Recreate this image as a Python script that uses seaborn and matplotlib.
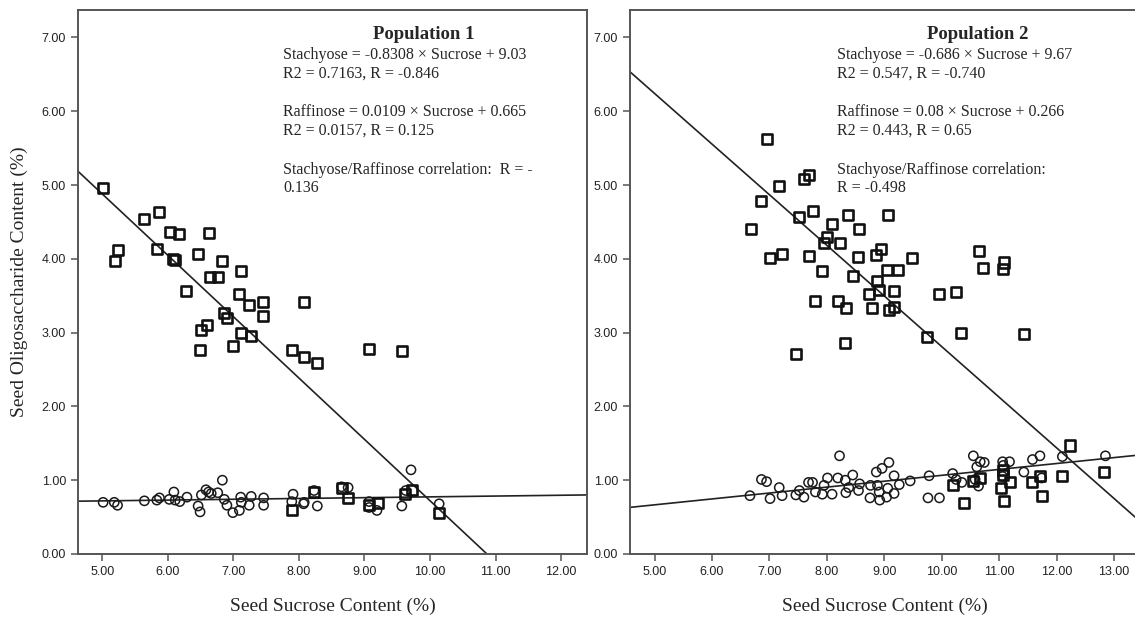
import numpy as np
import pandas as pd
import seaborn as sns
import matplotlib.pyplot as plt

# ---- population 1 : stachyose (squares)
p1_stach_sucrose = [5.01, 5.23, 5.19, 5.64, 5.86, 5.83, 6.03, 6.17, 6.08, 6.10, 6.27, 6.46,
                    6.63, 6.82, 6.64, 6.77, 7.11, 7.09, 7.24, 7.45, 7.45, 6.86, 6.90, 6.59,
                    6.51, 6.49, 6.99, 7.12, 7.27, 8.08, 7.90, 8.07, 8.27, 9.07, 9.57,
                    7.89, 8.23, 8.65, 8.75, 9.07, 9.20, 9.62, 9.72, 10.14]
p1_stach = [4.96, 4.12, 3.97, 4.54, 4.63, 4.13, 4.36, 4.34, 4.00, 3.99, 3.56, 4.06,
            4.35, 3.97, 3.75, 3.76, 3.83, 3.52, 3.38, 3.41, 3.22, 3.27, 3.20, 3.10,
            3.04, 2.76, 2.82, 3.00, 2.96, 3.41, 2.76, 2.67, 2.59, 2.78, 2.75,
            0.59, 0.84, 0.90, 0.76, 0.67, 0.69, 0.81, 0.87, 0.55]

# ---- population 1 : raffinose (circles)
p1_raff_sucrose = [5.01, 5.18, 5.23, 5.64, 5.83, 5.87, 6.02, 6.09, 6.11, 6.18, 6.29, 6.46,
                   6.49, 6.51, 6.58, 6.62, 6.66, 6.76, 6.83, 6.86, 6.90, 6.99, 7.09, 7.11,
                   7.12, 7.24, 7.27, 7.46, 7.46, 7.91, 7.89, 8.07, 8.08, 8.28, 8.23, 8.65,
                   8.75, 9.07, 9.07, 9.19, 9.57, 9.63, 9.71, 10.14]
p1_raff = [0.70, 0.70, 0.66, 0.72, 0.73, 0.76, 0.74, 0.84, 0.73, 0.71, 0.77, 0.65,
           0.57, 0.80, 0.87, 0.84, 0.82, 0.83, 1.00, 0.74, 0.66, 0.56, 0.59, 0.77,
           0.70, 0.66, 0.78, 0.76, 0.66, 0.81, 0.71, 0.68, 0.70, 0.65, 0.86, 0.91,
           0.90, 0.71, 0.63, 0.59, 0.65, 0.86, 1.14, 0.68]

# ---- population 2 : stachyose (squares)
p2_stach_sucrose = [6.95, 7.68, 7.60, 7.17, 6.85, 7.51, 7.75, 8.37, 9.07, 6.67, 8.09, 8.56,
                    8.01, 7.95, 8.22, 7.01, 7.22, 7.69, 8.55, 8.86, 8.94, 9.49, 7.92, 8.46,
                    9.04, 9.24, 8.88, 8.91, 9.16, 8.74, 7.80, 8.19, 8.34, 8.78, 9.08, 9.17,
                    9.75, 8.32, 7.46, 10.64, 11.09, 11.07, 10.72, 9.95, 10.24, 10.33, 11.43,
                    12.24, 12.83, 12.10, 11.71, 11.75, 11.57, 11.19, 11.03, 11.09, 11.07,
                    11.06, 10.67, 10.55, 10.19, 10.39]
p2_stach = [5.63, 5.14, 5.08, 4.99, 4.79, 4.57, 4.65, 4.59, 4.60, 4.41, 4.47, 4.41,
            4.30, 4.21, 4.22, 4.01, 4.07, 4.04, 4.03, 4.05, 4.13, 4.01, 3.83, 3.77,
            3.85, 3.85, 3.70, 3.58, 3.57, 3.52, 3.43, 3.43, 3.34, 3.34, 3.30, 3.35,
            2.94, 2.86, 2.71, 4.11, 3.95, 3.86, 3.87, 3.52, 3.55, 2.99, 2.98,
            1.47, 1.11, 1.06, 1.06, 0.79, 0.97, 0.97, 0.90, 0.72, 1.07,
            1.14, 1.03, 0.99, 0.93, 0.69]

# ---- population 2 : raffinose (circles)
p2_raff_sucrose = [6.66, 6.86, 6.95, 7.01, 7.17, 7.22, 7.46, 7.52, 7.60, 7.68, 7.75, 7.80,
                   7.92, 7.95, 8.01, 8.09, 8.19, 8.22, 8.32, 8.33, 8.38, 8.45, 8.55, 8.57,
                   8.76, 8.75, 8.86, 8.88, 8.91, 8.92, 8.96, 9.04, 9.06, 9.08, 9.17, 9.17,
                   9.26, 9.45, 9.78, 9.76, 9.96, 10.19, 10.25, 10.35, 10.55, 10.61, 10.67,
                   10.74, 10.64, 10.58, 11.06, 11.07, 11.18, 11.06, 11.43, 11.58, 11.71,
                   11.74, 12.10, 12.85]
p2_raff = [0.79, 1.01, 0.98, 0.75, 0.90, 0.79, 0.80, 0.86, 0.77, 0.97, 0.97, 0.84,
           0.81, 0.93, 1.03, 0.81, 1.03, 1.33, 1.00, 0.83, 0.90, 1.07, 0.86, 0.95,
           0.93, 0.76, 1.11, 0.93, 0.84, 0.73, 1.16, 0.77, 0.89, 1.24, 1.06, 0.82,
           0.94, 0.99, 1.06, 0.76, 0.76, 1.09, 1.01, 0.97, 1.33, 1.18, 1.25,
           1.24, 0.92, 1.01, 1.25, 1.20, 1.25, 1.05, 1.11, 1.28, 1.33,
           1.03, 1.32, 1.33]

# reported fit lines (slope, intercept)
p1_stach_fit = (-0.8308, 9.03)
p1_raff_fit = (0.0109, 0.665)
p2_stach_fit = (-0.686, 9.67)
p2_raff_fit = (0.08, 0.266)

p1_title = 'Population 1'
p1_notes = ['Stachyose = -0.8308 × Sucrose + 9.03', 'R2 = 0.7163, R = -0.846',
            'Raffinose = 0.0109 × Sucrose + 0.665', 'R2 = 0.0157, R = 0.125',
            'Stachyose/Raffinose correlation:  R = -', '0.136']
p2_title = 'Population 2'
p2_notes = ['Stachyose = -0.686 × Sucrose + 9.67', 'R2 = 0.547, R = -0.740',
            'Raffinose = 0.08 × Sucrose + 0.266', 'R2 = 0.443, R = 0.65',
            'Stachyose/Raffinose correlation:', 'R = -0.498']

sns.set_style('white')
plt.rcParams['font.family'] = ['Liberation Sans', 'DejaVu Sans']
serif = ['Liberation Serif', 'DejaVu Serif']
spine_col = '#555555'

fig = plt.figure(figsize=(11.35, 6.18), dpi=100)
ax1 = fig.add_axes([0.0687, 0.1036, 0.4485, 0.880])
ax2 = fig.add_axes([0.555, 0.1036, 0.4493, 0.880])

panels = [
    (ax1, p1_stach_sucrose, p1_stach, p1_raff_sucrose, p1_raff, p1_stach_fit, p1_raff_fit,
     p1_title, p1_notes, (4.626, 12.397), range(5, 13), 9.91, 7.76),
    (ax2, p2_stach_sucrose, p2_stach, p2_raff_sucrose, p2_raff, p2_stach_fit, p2_raff_fit,
     p2_title, p2_notes, (4.57, 13.45), range(5, 14), 10.63, 8.18),
]

note_y = [6.76, 6.51, 5.99, 5.74, 5.20, 4.96]

for ax, sx, sy, rx, ry, sfit, rfit, title, notes, xlim, xt, tx, nx in panels:
    df_s = pd.DataFrame({'Sucrose': sx, 'Content': sy})
    df_r = pd.DataFrame({'Sucrose': rx, 'Content': ry})

    sns.scatterplot(data=df_r, x='Sucrose', y='Content', ax=ax, marker='o', s=44,
                    facecolors='none', edgecolors='#1a1a1a', linewidth=1.1, zorder=3)
    sns.scatterplot(data=df_s, x='Sucrose', y='Content', ax=ax, marker='s', s=52,
                    facecolors='none', edgecolors='#111111', linewidth=1.9, zorder=4)

    # fit lines
    ax.axline((0, sfit[1]), slope=sfit[0], color='#222222', lw=1.2, zorder=2)
    ax.axline((0, rfit[1]), slope=rfit[0], color='#222222', lw=1.2, zorder=2)

    ax.set_xlim(*xlim)
    ax.set_ylim(0, 7.37)
    ax.set_xticks(list(xt))
    ax.set_yticks(range(0, 8))
    ax.xaxis.set_major_formatter(plt.FormatStrFormatter('%.2f'))
    ax.yaxis.set_major_formatter(plt.FormatStrFormatter('%.2f'))
    ax.tick_params(axis='both', direction='out', length=5, width=1.1, color=spine_col,
                   labelsize=9, labelcolor='#222222', bottom=True, left=True)
    for sp in ax.spines.values():
        sp.set_color(spine_col)
        sp.set_linewidth(1.4)

    ax.set_xlabel('Seed Sucrose Content (%)', family=serif, fontsize=14, labelpad=14)
    ax.set_ylabel('')

    ax.text(tx, 7.04, title, family=serif, fontsize=13.5, fontweight='bold',
            ha='center', va='center')
    for ny, line in zip(note_y, notes):
        ax.text(nx, ny, line, family=serif, fontsize=11.5, ha='left', va='center')

ax1.set_ylabel('Seed Oligosaccharide Content (%)', family=serif, fontsize=14, labelpad=10)

fig.savefig('out.png', dpi=100)
